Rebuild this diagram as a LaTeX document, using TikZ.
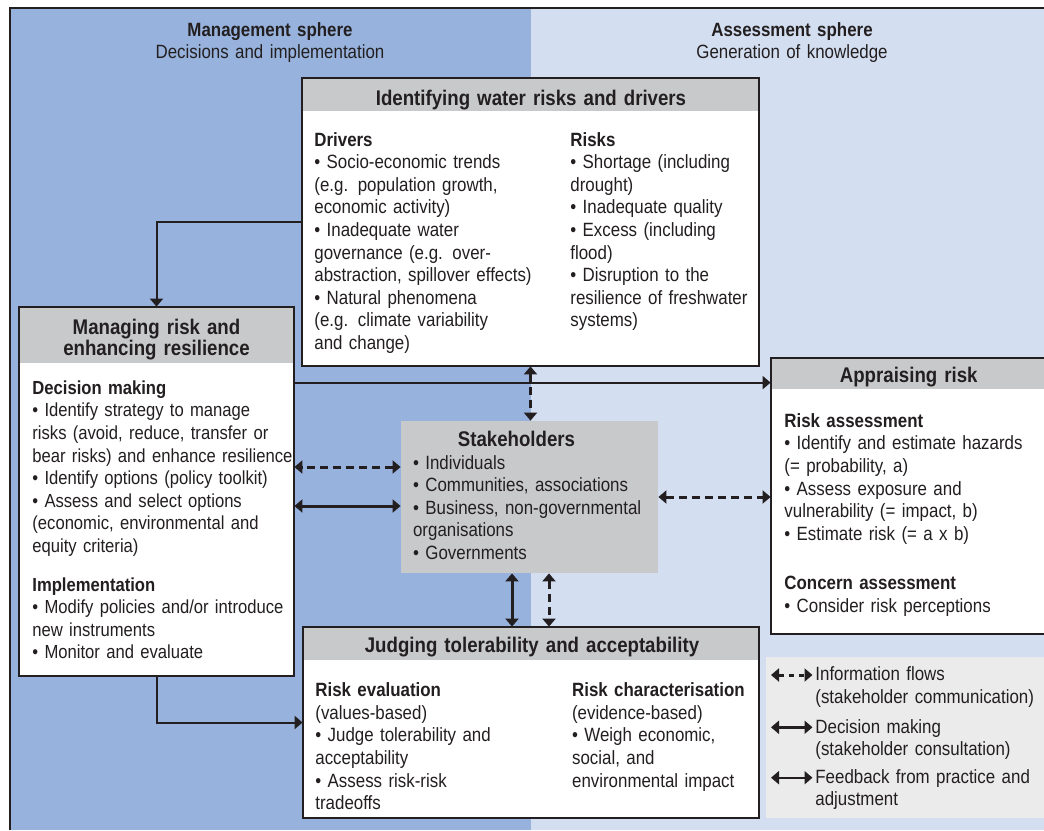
\documentclass[tikz,border=0pt]{standalone}
\usepackage{fontspec}
\setmainfont{Liberation Sans}[FakeStretch=0.88]
\usepackage{tikz}
\usetikzlibrary{arrows.meta, positioning, calc, fit}
\definecolor{wrdeep}{HTML}{97B3DD}
\definecolor{wrpale}{HTML}{D3DEF0}
\definecolor{wrhead}{HTML}{C8C9CB}
\definecolor{wrkey}{HTML}{EBEBEB}
\definecolor{wrink}{HTML}{231F20}

\begin{document}
\begin{tikzpicture}[x=0.5pt, y=-0.5pt, line join=miter, wrink,
    font=\fontsize{9.6}{11.3}\selectfont,
    panel/.style={fill=white, inner sep=0pt},
    rim/.style={draw=wrink, line width=1pt},
    headband/.style={fill=wrhead, inner sep=0pt},
    paneltitle/.style={font=\fontsize{10.6}{10.85}\selectfont\bfseries, align=center,
                       text width=220pt, inner sep=0pt, anchor=base},
    sphere/.style={font=\fontsize{9.6}{10.65}\selectfont, align=center,
                   text width=220pt, inner sep=0pt, anchor=base},
    body/.style={align=left, text width=150pt, inner sep=0pt, anchor=base west},
    feedback/.style={draw=wrink, line width=1pt, -{Triangle[length=4pt, width=6.5pt]}},
    twoway/.style={draw=wrink, line width=1pt,
                   {Triangle[length=4pt, width=6.5pt]}-{Triangle[length=4pt, width=6.5pt]}},
    decision/.style={twoway, line width=1.5pt},
    infoflow/.style={decision, dash pattern=on 4pt off 2.5pt},
  ]
  \clip (0,0) rectangle (1044,830);
  \fill[white] (0,0) rectangle (1044,830);
  % the two spheres
  \fill[wrdeep] (10,8) rectangle (531,830);
  \fill[wrpale] (531,8) rectangle (1044,830);
  \draw[line width=1pt] (10,830) -- (10,8) -- (1044,8);
  \node[sphere] (mgmt) at (270,36.7) {\textbf{Management sphere}\\Decisions and implementation};
  \node[sphere] (assess) at (792,36.7) {\textbf{Assessment sphere}\\Generation of knowledge};

  % (1) identifying water risks and drivers
  \node[panel, fit={(302,78) (759,366)}] (ident) {};
  \node[headband, fit={(302,78) (759,111)}] (identhead) {};
  \draw[rim] (ident.north west) rectangle (ident.south east);
  \node[paneltitle] (identtitle) at (531,105.3) {Identifying water risks and drivers};
  \node[body] (drivers) at (314,146) {\textbf{Drivers}\\
    \textbullet\ Socio-economic trends\\
    (e.g. population growth,\\
    economic activity)\\
    \textbullet\ Inadequate water\\
    governance (e.g. over-\\
    abstraction, spillover effects)\\
    \textbullet\ Natural phenomena\\
    (e.g. climate variability\\
    and change)};
  \node[body] (risks) at (570,146) {\textbf{Risks}\\
    \textbullet\ Shortage (including\\
    drought)\\
    \textbullet\ Inadequate quality\\
    \textbullet\ Excess (including\\
    flood)\\
    \textbullet\ Disruption to the\\
    resilience of freshwater\\
    systems)};

  % (2) managing risk
  \node[panel, fit={(19,307) (294,676)}] (manage) {};
  \node[headband, fit={(19,307) (294,363)}] (managehead) {};
  \draw[rim] (manage.north west) rectangle (manage.south east);
  \node[paneltitle] (managetitle) at (156.5,334) {Managing risk and\\enhancing resilience};
  \node[body, font=\fontsize{9.45}{11.3}\selectfont] (decide) at (32,394.3) {\textbf{Decision making}\\
    \textbullet\ Identify strategy to manage\\
    risks (avoid, reduce, transfer or\\
    bear risks) and enhance resilience\\
    \textbullet\ Identify options (policy toolkit)\\
    \textbullet\ Assess and select options\\
    (economic, environmental and\\
    equity criteria)\\[8pt]
    \textbf{Implementation}\\
    \textbullet\ Modify policies and/or introduce\\
    new instruments\\
    \textbullet\ Monitor and evaluate};

  % (3) appraising risk
  \node[panel, fit={(771,358) (1046,634)}] (appraise) {};
  \node[headband, fit={(771,358) (1046,389)}] (appraisehead) {};
  \draw[rim] (appraise.north west) rectangle (appraise.south east);
  \node[paneltitle] (appraisetitle) at (908.7,382.3) {Appraising risk};
  \node[body] (riskassess) at (784,427.3) {\textbf{Risk assessment}\\
    \textbullet\ Identify and estimate hazards\\
    (= probability, a)\\
    \textbullet\ Assess exposure and\\
    vulnerability (= impact, b)\\
    \textbullet\ Estimate risk (= a x b)\\[13.4pt]
    \textbf{Concern assessment}\\
    \textbullet\ Consider risk perceptions};

  % (4) stakeholders
  \node[headband, fit={(401,421) (658,573)}] (stake) {};
  \node[paneltitle] (staketitle) at (516.5,446.7) {Stakeholders};
  \node[body] (stakelist) at (412.7,469) {\textbullet\ Individuals\\
    \textbullet\ Communities, associations\\
    \textbullet\ Business, non-governmental\\
    organisations\\
    \textbullet\ Governments};

  % (5) judging tolerability
  \node[panel, fit={(303,627) (759,818)}] (judge) {};
  \node[headband, fit={(303,627) (759,660)}] (judgehead) {};
  \draw[rim] (judge.north west) rectangle (judge.south east);
  \node[paneltitle] (judgetitle) at (532,652.3) {Judging tolerability and acceptability};
  \node[body] (evaluation) at (315,696.7) {\textbf{Risk evaluation}\\
    (values-based)\\
    \textbullet\ Judge tolerability and\\
    acceptability\\
    \textbullet\ Assess risk-risk\\
    tradeoffs};
  \node[body] (characterise) at (571.7,696.7) {\textbf{Risk characterisation}\\
    (evidence-based)\\
    \textbullet\ Weigh economic,\\
    social, and\\
    environmental impact};

  % connectors
  \draw[feedback] (ident.west) -| (manage.north);
  \coordinate (toappraise) at ($(manage.north east)+(0,76)$);
  \draw[feedback] (toappraise) -- (toappraise -| appraise.west);
  \draw[feedback] (manage.south) |- (judge.west);
  \draw[infoflow] (ident.south) -- (ident.south |- stake.north);
  \coordinate (stakeinfo) at ([yshift=15pt]stake.west);
  \coordinate (stakedec) at ([yshift=-4.5pt]stake.west);
  \draw[infoflow] (stakeinfo) -- (stakeinfo -| manage.east);
  \draw[decision] (stakedec) -- (stakedec -| manage.east);
  \draw[infoflow] (stake.east) -- (stake.east -| appraise.west);
  \coordinate (judgedec) at ([xshift=-8.75pt]stake.south);
  \coordinate (judgeinfo) at ([xshift=9.75pt]stake.south);
  \draw[decision] (judgedec) -- (judgedec |- judge.north);
  \draw[infoflow] (judgeinfo) -- (judgeinfo |- judge.north);

  % legend
  \node[headband, fill=wrkey, fit={(766,657) (1046,818)}] (legend) {};
  \coordinate (keyinfoa) at (771,675);   \coordinate (keyinfob) at (812.5,675);
  \coordinate (keydeca) at (771,727.3);  \coordinate (keydecb) at (812.5,727.3);
  \coordinate (keybacka) at (771,777.7); \coordinate (keybackb) at (812.5,777.7);
  \draw[infoflow, dash pattern=on 2.5pt off 2.5pt] (keyinfoa) -- (keyinfob);
  \draw[decision] (keydeca) -- (keydecb);
  \draw[twoway] (keybacka) -- (keybackb);
  \node[body] (keyinfo) at (815,680.7) {Information flows\\(stakeholder communication)};
  \node[body] (keydec) at (815,733.3) {Decision making\\(stakeholder consultation)};
  \node[body] (keyback) at (815,783.3) {Feedback from practice and\\adjustment};
\end{tikzpicture}
\end{document}
